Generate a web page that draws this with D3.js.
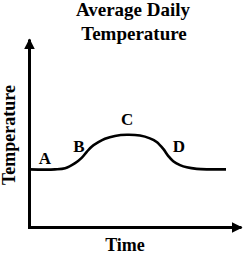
<!DOCTYPE html>
<html lang="en">
<head>
<meta charset="UTF-8">
<title>Average Daily Temperature</title>
<script src="https://d3js.org/d3.v7.min.js"></script>
<style>
  body { margin: 0; background: #fff; }
  text { font-family: "Liberation Serif", "Times New Roman", serif; font-weight: bold; fill: #000; }
</style>
</head>
<body>
<div id="chart"></div>
<script>
// curve readings (time, temperature) in arbitrary units
const times = [0, 1.2, 1.68, 2.15, 2.46, 2.7, 2.93, 3.25, 3.56, 4.03, 4.6, 5.21, 5.68, 6.0, 6.31, 6.55, 6.78, 7.1, 7.42, 7.89, 9.27];
const temps = [3.09, 3.09, 3.15, 3.42, 3.7, 4.02, 4.3, 4.54, 4.72, 4.87, 4.93, 4.89, 4.74, 4.55, 4.18, 3.8, 3.52, 3.32, 3.2, 3.12, 3.09];

// point labels
const labelNames = ["A", "B", "C", "D"];
const labelTimes = [0.73, 2.33, 4.6, 7.05];
const labelTemps = [3.38, 4.02, 5.45, 4.02];

const width = 244, height = 254;

const x = d3.scaleLinear().domain([0, 10]).range([29.5, 241.5]);
const y = d3.scaleLinear().domain([0, 10]).range([227.5, 39.5]);

const svg = d3.select("#chart").append("svg")
  .attr("width", width)
  .attr("height", height);

svg.append("defs").append("marker")
  .attr("id", "arrow")
  .attr("viewBox", "0 0 10 10")
  .attr("refX", 9).attr("refY", 5)
  .attr("markerWidth", 3.6).attr("markerHeight", 3.6)
  .attr("markerUnits", "strokeWidth")
  .attr("orient", "auto")
  .append("path")
  .attr("d", "M0,0L10,5L0,10Z")
  .attr("fill", "#000");

// axes
svg.append("line")
  .attr("x1", x(0)).attr("y1", y(0) + 1.5)
  .attr("x2", x(0)).attr("y2", y(10))
  .attr("stroke", "#000").attr("stroke-width", 3)
  .attr("marker-end", "url(#arrow)");

svg.append("line")
  .attr("x1", x(0) - 1.5).attr("y1", y(0))
  .attr("x2", x(10)).attr("y2", y(0))
  .attr("stroke", "#000").attr("stroke-width", 3)
  .attr("marker-end", "url(#arrow)");

// temperature curve
const pts = times.map((t, i) => [t, temps[i]]);
svg.append("path")
  .datum(pts)
  .attr("fill", "none")
  .attr("stroke", "#000")
  .attr("stroke-width", 2.6)
  .attr("d", d3.line().x(d => x(d[0])).y(d => y(d[1])).curve(d3.curveCatmullRom.alpha(0.5)));

svg.selectAll(".lbl")
  .data(labelNames)
  .enter().append("text")
  .attr("class", "lbl")
  .attr("x", (d, i) => x(labelTimes[i]))
  .attr("y", (d, i) => y(labelTemps[i]))
  .attr("text-anchor", "middle")
  .attr("font-size", 17)
  .text(d => d);

// titles
svg.append("text")
  .attr("x", 133).attr("y", 16)
  .attr("text-anchor", "middle")
  .attr("font-size", 19)
  .text("Average Daily");
svg.append("text")
  .attr("x", 134).attr("y", 40)
  .attr("text-anchor", "middle")
  .attr("font-size", 19)
  .text("Temperature");

svg.append("text")
  .attr("transform", "translate(15,135) rotate(-90)")
  .attr("text-anchor", "middle")
  .attr("font-size", 18)
  .text("Temperature");

svg.append("text")
  .attr("x", 125).attr("y", 251)
  .attr("text-anchor", "middle")
  .attr("font-size", 18)
  .text("Time");
</script>
</body>
</html>
